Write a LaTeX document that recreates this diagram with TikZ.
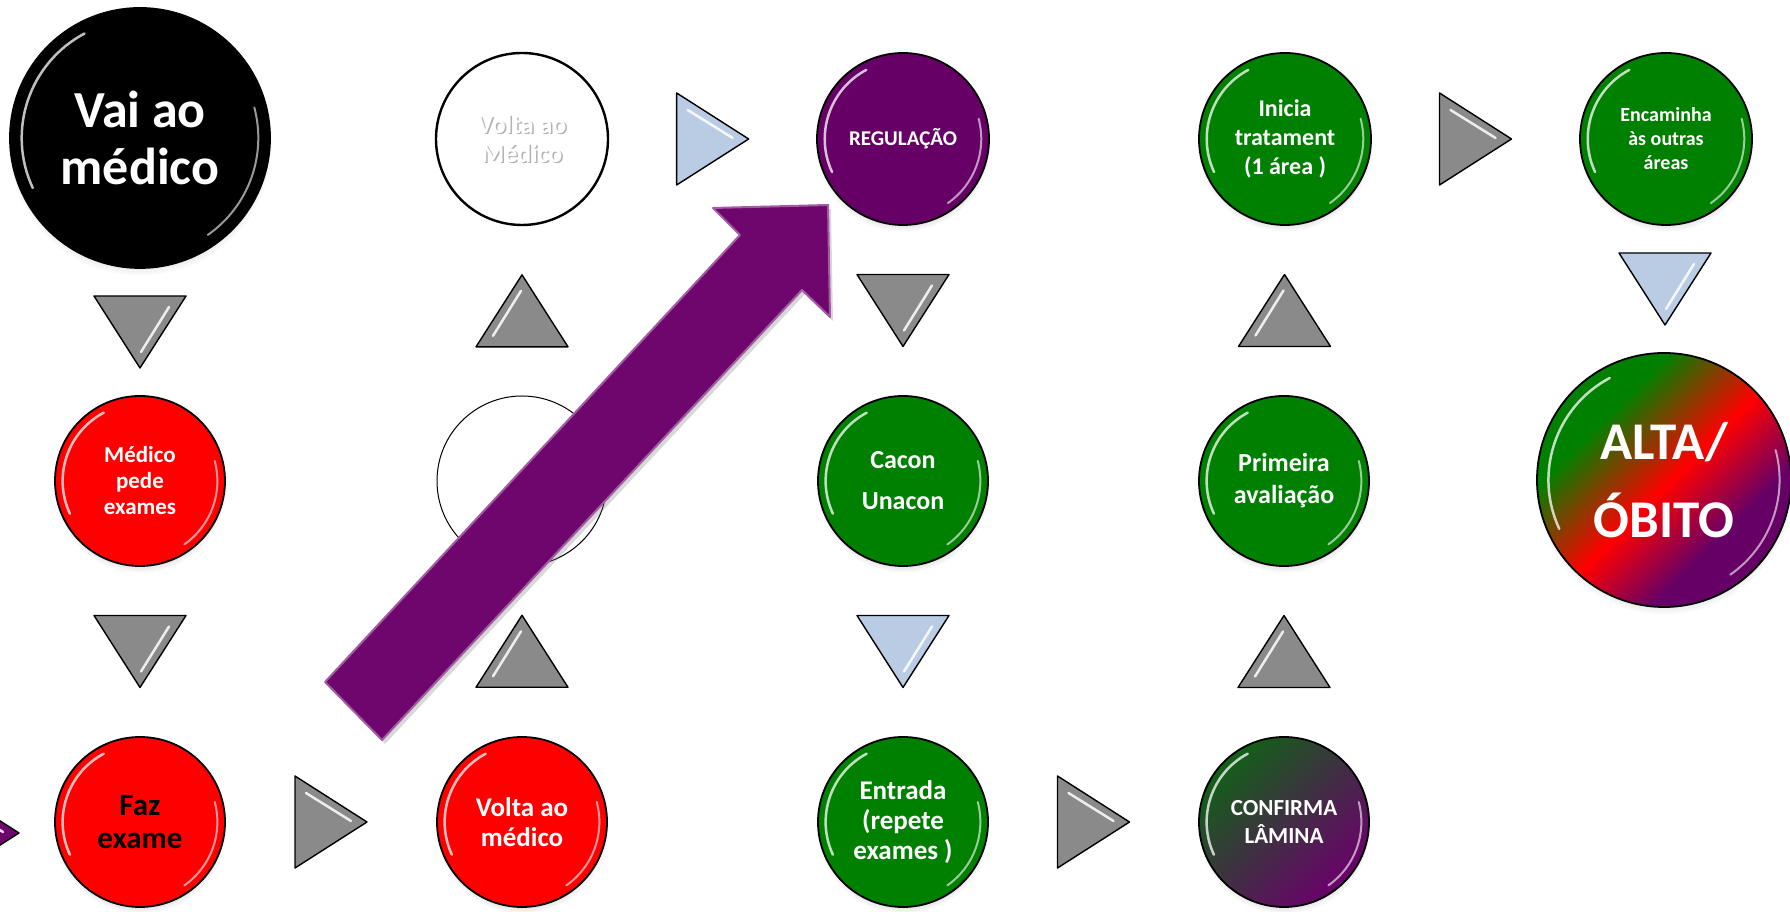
\documentclass[tikz,border=0pt]{standalone}
\usepackage{fontspec}
\setmainfont{Carlito}
\usetikzlibrary{calc,shadows,fadings}

\definecolor{ballred}{RGB}{255,0,0}
\definecolor{ballgreen}{RGB}{0,128,0}
\definecolor{ballpurple}{RGB}{102,0,102}
\definecolor{arrowpurple}{RGB}{110,6,110}
\definecolor{trigray}{RGB}{138,138,138}
\definecolor{triblue}{RGB}{186,204,228}
\definecolor{laminagreen}{RGB}{18,96,24}
\definecolor{laminamid}{RGB}{62,46,58}
\definecolor{laminapurple}{RGB}{108,0,108}

\pgfdeclareverticalshading{altaobito}{100bp}{color(0bp)=(ballpurple); color(34bp)=(ballpurple); color(49bp)=(red); color(67bp)=(ballgreen); color(100bp)=(ballgreen)}

\tikzset{
	ball/.style={circle, draw=black, line width=1.8pt, minimum size=#1pt, inner sep=0pt, align=center, text=white,
		circular drop shadow={shadow xshift=0pt, shadow yshift=-5pt, shadow scale=1.02, opacity=.35},
		path picture={
			\draw[white, line width=2.5pt, opacity=.75, line cap=round] (path picture bounding box.center) ++(118:0.455*#1) arc[start angle=118, end angle=205, radius=0.455*#1];
			\draw[white, line width=2pt, opacity=.6, line cap=round] (path picture bounding box.center) ++(-55:0.455*#1) arc[start angle=-55, end angle=15, radius=0.455*#1];
		}},
	blank/.style={circle, draw=black, minimum size=#1pt, inner sep=0pt, align=center},
	tri/.style={draw=black, line width=1.4pt, line join=round, fill=trigray},
	trilight/.style={tri, fill=triblue},
	tripurple/.style={tri, fill=arrowpurple},
	streak/.style={white, line width=2.5pt, line cap=round, opacity=.85},
}

% pointer triangle: style, position, angle (0 = down)
\newcommand{\pointer}[3]{%
	\begin{scope}[shift={#2}, rotate=#3]
		\draw[#1] (-46,36) -- (46,36) -- (0,-36) -- cycle;
		\draw[streak] (29,25) -- (1,-20);
	\end{scope}}

\begin{document}
\begin{tikzpicture}[x=1pt, y=1pt]
	\path[use as bounding box, fill=white] (0,0) rectangle (1790,912);
	\clip (0,0) rectangle (1790,912);

	\node[ball=260, fill=black, font=\fontsize{52}{57}\selectfont\bfseries] (A) at (140,774) {Vai ao\\médico};
	\node[ball=170, fill=ballred, font=\fontsize{23}{26}\selectfont\bfseries] (B) at (140,431) {Médico\\pede\\exames};
	\node[ball=170, fill=ballred, text=black, font=\fontsize{31}{33}\selectfont\bfseries] (C) at (140,90) {Faz\\exame};
	\node[ball=170, fill=ballred, font=\fontsize{27}{30}\selectfont\bfseries] (D) at (522,90) {Volta ao\\médico};
	\node[blank=170, line width=1pt] (E) at (522,431) {};
	\node[text=black!30, font=\fontsize{26}{29}\selectfont\bfseries, align=center] (Fs) at (523.5,772) {Volta ao\\Médico};
	\node[blank=172, line width=2.4pt, text=white, font=\fontsize{26}{29}\selectfont\bfseries] (F) at (522,773) {Volta ao\\Médico};

	\node[ball=172, fill=ballpurple, font=\fontsize{21}{24}\selectfont\bfseries] (G) at (903,773) {REGULAÇÃO};
	\node[ball=170, fill=ballgreen, font=\fontsize{26}{41}\selectfont\bfseries] (H) at (903,431) {Cacon\\Unacon};
	\node[ball=170, fill=ballgreen, font=\fontsize{27}{30}\selectfont\bfseries] (I) at (903,90) {Entrada\\(repete\\exames )};
	\node[ball=170, top color=laminagreen, middle color=laminamid, bottom color=laminapurple, shading angle=45, font=\fontsize{23}{28}\selectfont\bfseries] (J) at (1284,90) {CONFIRMA\\LÂMINA};
	\node[ball=170, fill=ballgreen, font=\fontsize{26}{32}\selectfont\bfseries] (K) at (1284,431) {Primeira\\avaliação};
	\node[ball=172, fill=ballgreen, font=\fontsize{24}{29}\selectfont\bfseries] (L) at (1285,773) {Inicia\\tratament\\(1 área )};
	\node[ball=172, fill=ballgreen, font=\fontsize{20}{24}\selectfont\bfseries] (M) at (1666,773) {Encaminha\\às outras\\áreas};
	\node[ball=254, shade, shading=altaobito, shading angle=45, font=\fontsize{53}{78}\selectfont\bfseries] (N) at (1664,432) {ALTA/\\ÓBITO};

	% pointers between the steps
	\pointer{tripurple}{(-17,79)}{90}
	\pointer{tri}{($(A.south)!0.5!(B.north)$)}{0}
	\pointer{tri}{($(B.south)!0.5!(C.north)$)}{0}
	\pointer{tri}{($(C.east)!0.5!(D.west)$)}{90}
	\pointer{tri}{($(D.north)!0.5!(E.south)$)}{180}
	\pointer{tri}{($(E.north)!0.5!(F.south)$)}{180}
	\pointer{trilight}{($(F.east)!0.5!(G.west)$)}{90}
	\pointer{tri}{($(G.south)!0.5!(H.north)$)}{0}
	\pointer{trilight}{($(H.south)!0.5!(I.north)$)}{0}
	\pointer{tri}{($(I.east)!0.5!(J.west)$)}{90}
	\pointer{tri}{($(J.north)!0.5!(K.south)$)}{180}
	\pointer{tri}{($(K.north)!0.5!(L.south)$)}{180}
	\pointer{tri}{($(L.east)!0.5!(M.west)$)}{90}
	\pointer{trilight}{($(M.south)!0.5!(N.north)$)}{0}

	% big arrow to the regulation
	\draw[fill=arrowpurple, draw=arrowpurple!65!white, line width=2pt, line join=round,
		drop shadow={shadow xshift=3pt, shadow yshift=-4pt, opacity=.3}]
		(325,230) -- (740,677) -- (713,704) -- (828,707) -- (830,595) -- (802,622) -- (382,172) -- cycle;
\end{tikzpicture}
\end{document}
